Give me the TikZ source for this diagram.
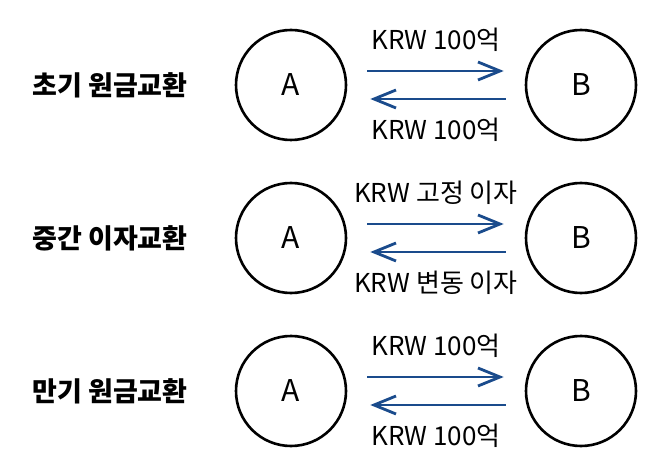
\documentclass[tikz,border=0pt]{standalone}
\usepackage{fontspec}
\setmainfont{Noto Sans CJK KR}
\usetikzlibrary{arrows.meta}
\definecolor{flowblue}{HTML}{1A4B8C}

\begin{document}
\begin{tikzpicture}[x=1pt, y=-1pt,
    party/.style = {draw, circle, line width=2.6pt, minimum size=110pt, inner sep=0pt, font=\fontsize{30}{30}\selectfont},
    title/.style = {font=\fontsize{27}{27}\selectfont\bfseries},
    amount/.style = {font=\fontsize{26}{26}\selectfont},
    flow/.style = {draw=flowblue, line width=2.8pt, -{Straight Barb[length=22pt, width=18pt]}}]
                \useasboundingbox (0,0) rectangle (658,470);
                \foreach \y/\name/\up/\down [count = \i] in
                    {85/초기 원금교환/KRW 100억/KRW 100억,
                     238/중간 이자교환/KRW 고정 이자/KRW 변동 이자,
                     391/만기 원금교환/KRW 100억/KRW 100억} {
                    \node[title] (t\i) at (110,\y) {\name};
                    \node[party] (a\i) at (291,\y) {A};
                    \node[party] (b\i) at (581,\y) {B};
                    \node[amount] (up\i) at (436,\y-45) {\up};
                    \node[amount] (down\i) at (436,\y+45) {\down};

                    \draw[flow, shorten <=20pt, shorten >=21pt]
                        ([yshift=14pt]a\i.east) -- ([yshift=14pt]b\i.west);
                    \draw[flow, shorten <=19pt, shorten >=23pt]
                        ([yshift=-14pt]b\i.west) -- ([yshift=-14pt]a\i.east);
                }
            \end{tikzpicture}
\end{document}
